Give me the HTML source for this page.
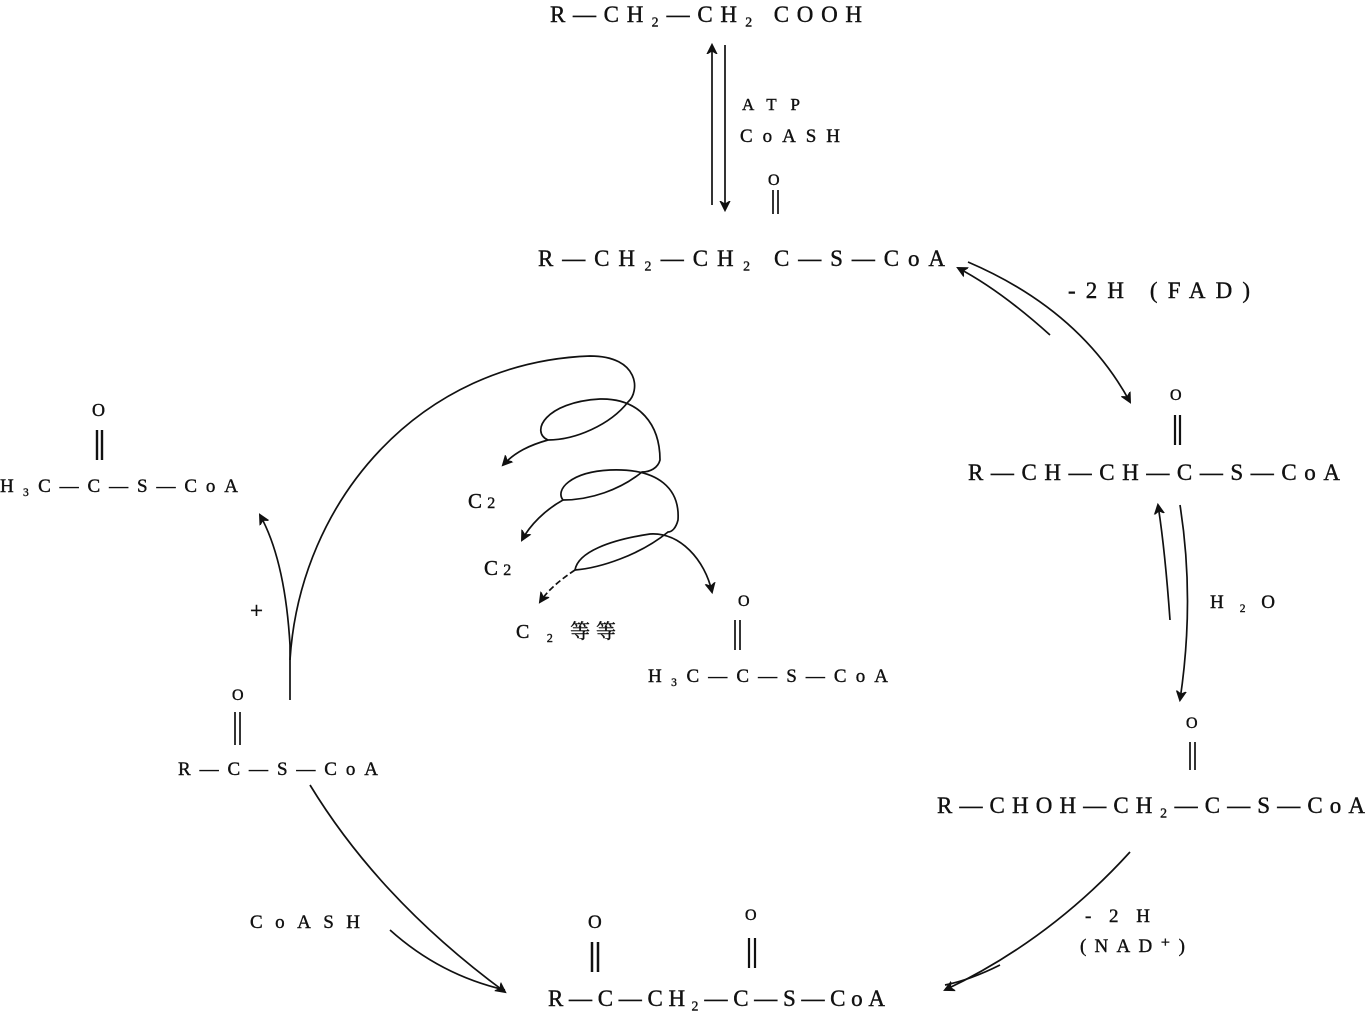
<!DOCTYPE html>
<html><head><meta charset="utf-8"><style>
html,body{margin:0;padding:0;background:#fff}
svg{display:block}
text{font-family:"Liberation Serif","DejaVu Serif","Noto Serif CJK SC",serif;font-size:23px;fill:#111;stroke:#111;stroke-width:0.4}
.s{font-size:16px}
</style></head><body>
<svg width="1368" height="1013" viewBox="0 0 1368 1013" xmlns="http://www.w3.org/2000/svg">
<defs><marker id="a" markerWidth="12" markerHeight="12" refX="9" refY="6" orient="auto" markerUnits="userSpaceOnUse"><path d="M0,1 L10,6 L0,11 L3,6 Z" fill="#111" stroke="#111" stroke-width="1"/></marker></defs>
<g stroke="#111" fill="none" stroke-width="1.7">
<path d="M712,205 L712,45" marker-end="url(#a)"/><path d="M725,45 L725,210" marker-end="url(#a)"/>
<path d="M773,190 V214 M778,190 V214"/>
<path d="M1050,335 Q1000,290 958,268" marker-end="url(#a)"/><path d="M968,262 Q1080,310 1130,402" marker-end="url(#a)"/>
<path d="M1175,415 V445 M1180,415 V445" stroke-width="2.2"/>
<path d="M1170,620 Q1165,550 1158,505" marker-end="url(#a)"/><path d="M1180,505 Q1195,600 1180,700" marker-end="url(#a)"/>
<path d="M1190,742 V770 M1195,742 V770"/>
<path d="M1130,852 Q1050,940 945,990" marker-end="url(#a)"/><path d="M1000,965 Q970,980 945,985"/>
<path d="M592,942 V972 M598,942 V972" stroke-width="2.5"/><path d="M749,938 V968 M755,938 V968" stroke-width="2.2"/>
<path d="M310,785 Q380,900 505,992" marker-end="url(#a)"/><path d="M390,930 Q440,975 505,990"/>
<path d="M235,712 V745 M240,712 V745"/>
<path d="M290,700 L290,645 Q285,560 260,515" marker-end="url(#a)"/>
<path d="M97,430 V460 M102,430 V460" stroke-width="2.4"/>
<path d="M290,660 C300,500 420,362 590,356 C640,356 640,392 628,402 C610,425 575,440 548,440 C530,432 545,402 600,399 C640,398 660,425 660,460 C658,468 650,472 642,472 C620,490 590,500 563,500 C555,490 570,472 610,470 C660,468 680,490 678,520 C676,528 672,532 668,532 C640,555 600,568 575,570 C578,552 610,540 650,534 C680,532 705,560 712,592" marker-end="url(#a)"/>
<path d="M548,440 C530,445 515,452 503,465" marker-end="url(#a)"/>
<path d="M563,500 C545,510 530,525 522,540" marker-end="url(#a)"/>
<path d="M575,570 C560,580 548,590 540,602" marker-end="url(#a)" stroke-dasharray="6,3"/>
<path d="M735,620 V650 M740,620 V650"/>
</g>
<text x="550" y="22" textLength="312" lengthAdjust="spacing">R—CH₂—CH₂ COOH</text>
<text x="742" y="110" style="font-size:17px" textLength="58" lengthAdjust="spacing">ATP</text>
<text x="740" y="142" style="font-size:19px" textLength="100" lengthAdjust="spacing">CoASH</text>
<text x="768" y="185" class="s">O</text>
<text x="538" y="266" textLength="407" lengthAdjust="spacing">R—CH₂—CH₂  C—S—CoA</text>
<text x="1068" y="298" textLength="182" lengthAdjust="spacing">-2H (FAD)</text>
<text x="1170" y="400" class="s">O</text>
<text x="968" y="480" textLength="372" lengthAdjust="spacing">R—CH—CH—C—S—CoA</text>
<text x="1210" y="608" style="font-size:19px" textLength="65" lengthAdjust="spacing">H₂O</text>
<text x="1186" y="728" class="s">O</text>
<text x="937" y="813" textLength="428" lengthAdjust="spacing">R—CHOH—CH₂—C—S—CoA</text>
<text x="1085" y="922" style="font-size:19px" textLength="65" lengthAdjust="spacing">-2H</text>
<text x="1080" y="952" style="font-size:19px" textLength="105" lengthAdjust="spacing">(NAD⁺)</text>
<text x="588" y="928" style="font-size:19px">O</text>
<text x="745" y="920" class="s">O</text>
<text x="548" y="1006" textLength="337" lengthAdjust="spacing">R—C—CH₂—C—S—CoA</text>
<text x="250" y="928" style="font-size:19px" textLength="110" lengthAdjust="spacing">CoASH</text>
<text x="232" y="700" class="s">O</text>
<text x="178" y="775" style="font-size:19px" textLength="200" lengthAdjust="spacing">R—C—S—CoA</text>
<text x="250" y="618">+</text>
<text x="92" y="416" style="font-size:18px">O</text>
<text x="0" y="492" style="font-size:19px" textLength="238" lengthAdjust="spacing">H₃C—C—S—CoA</text>
<text x="468" y="508" style="font-size:21px">C <tspan class="s">2</tspan></text>
<text x="484" y="575" style="font-size:21px">C <tspan class="s">2</tspan></text>
<text x="516" y="638" style="font-size:20px" textLength="100" lengthAdjust="spacing">C ₂  等等</text>
<text x="738" y="606" class="s">O</text>
<text x="648" y="682" style="font-size:19px" textLength="240" lengthAdjust="spacing">H₃C—C—S—CoA</text>
</svg>
</body></html>
